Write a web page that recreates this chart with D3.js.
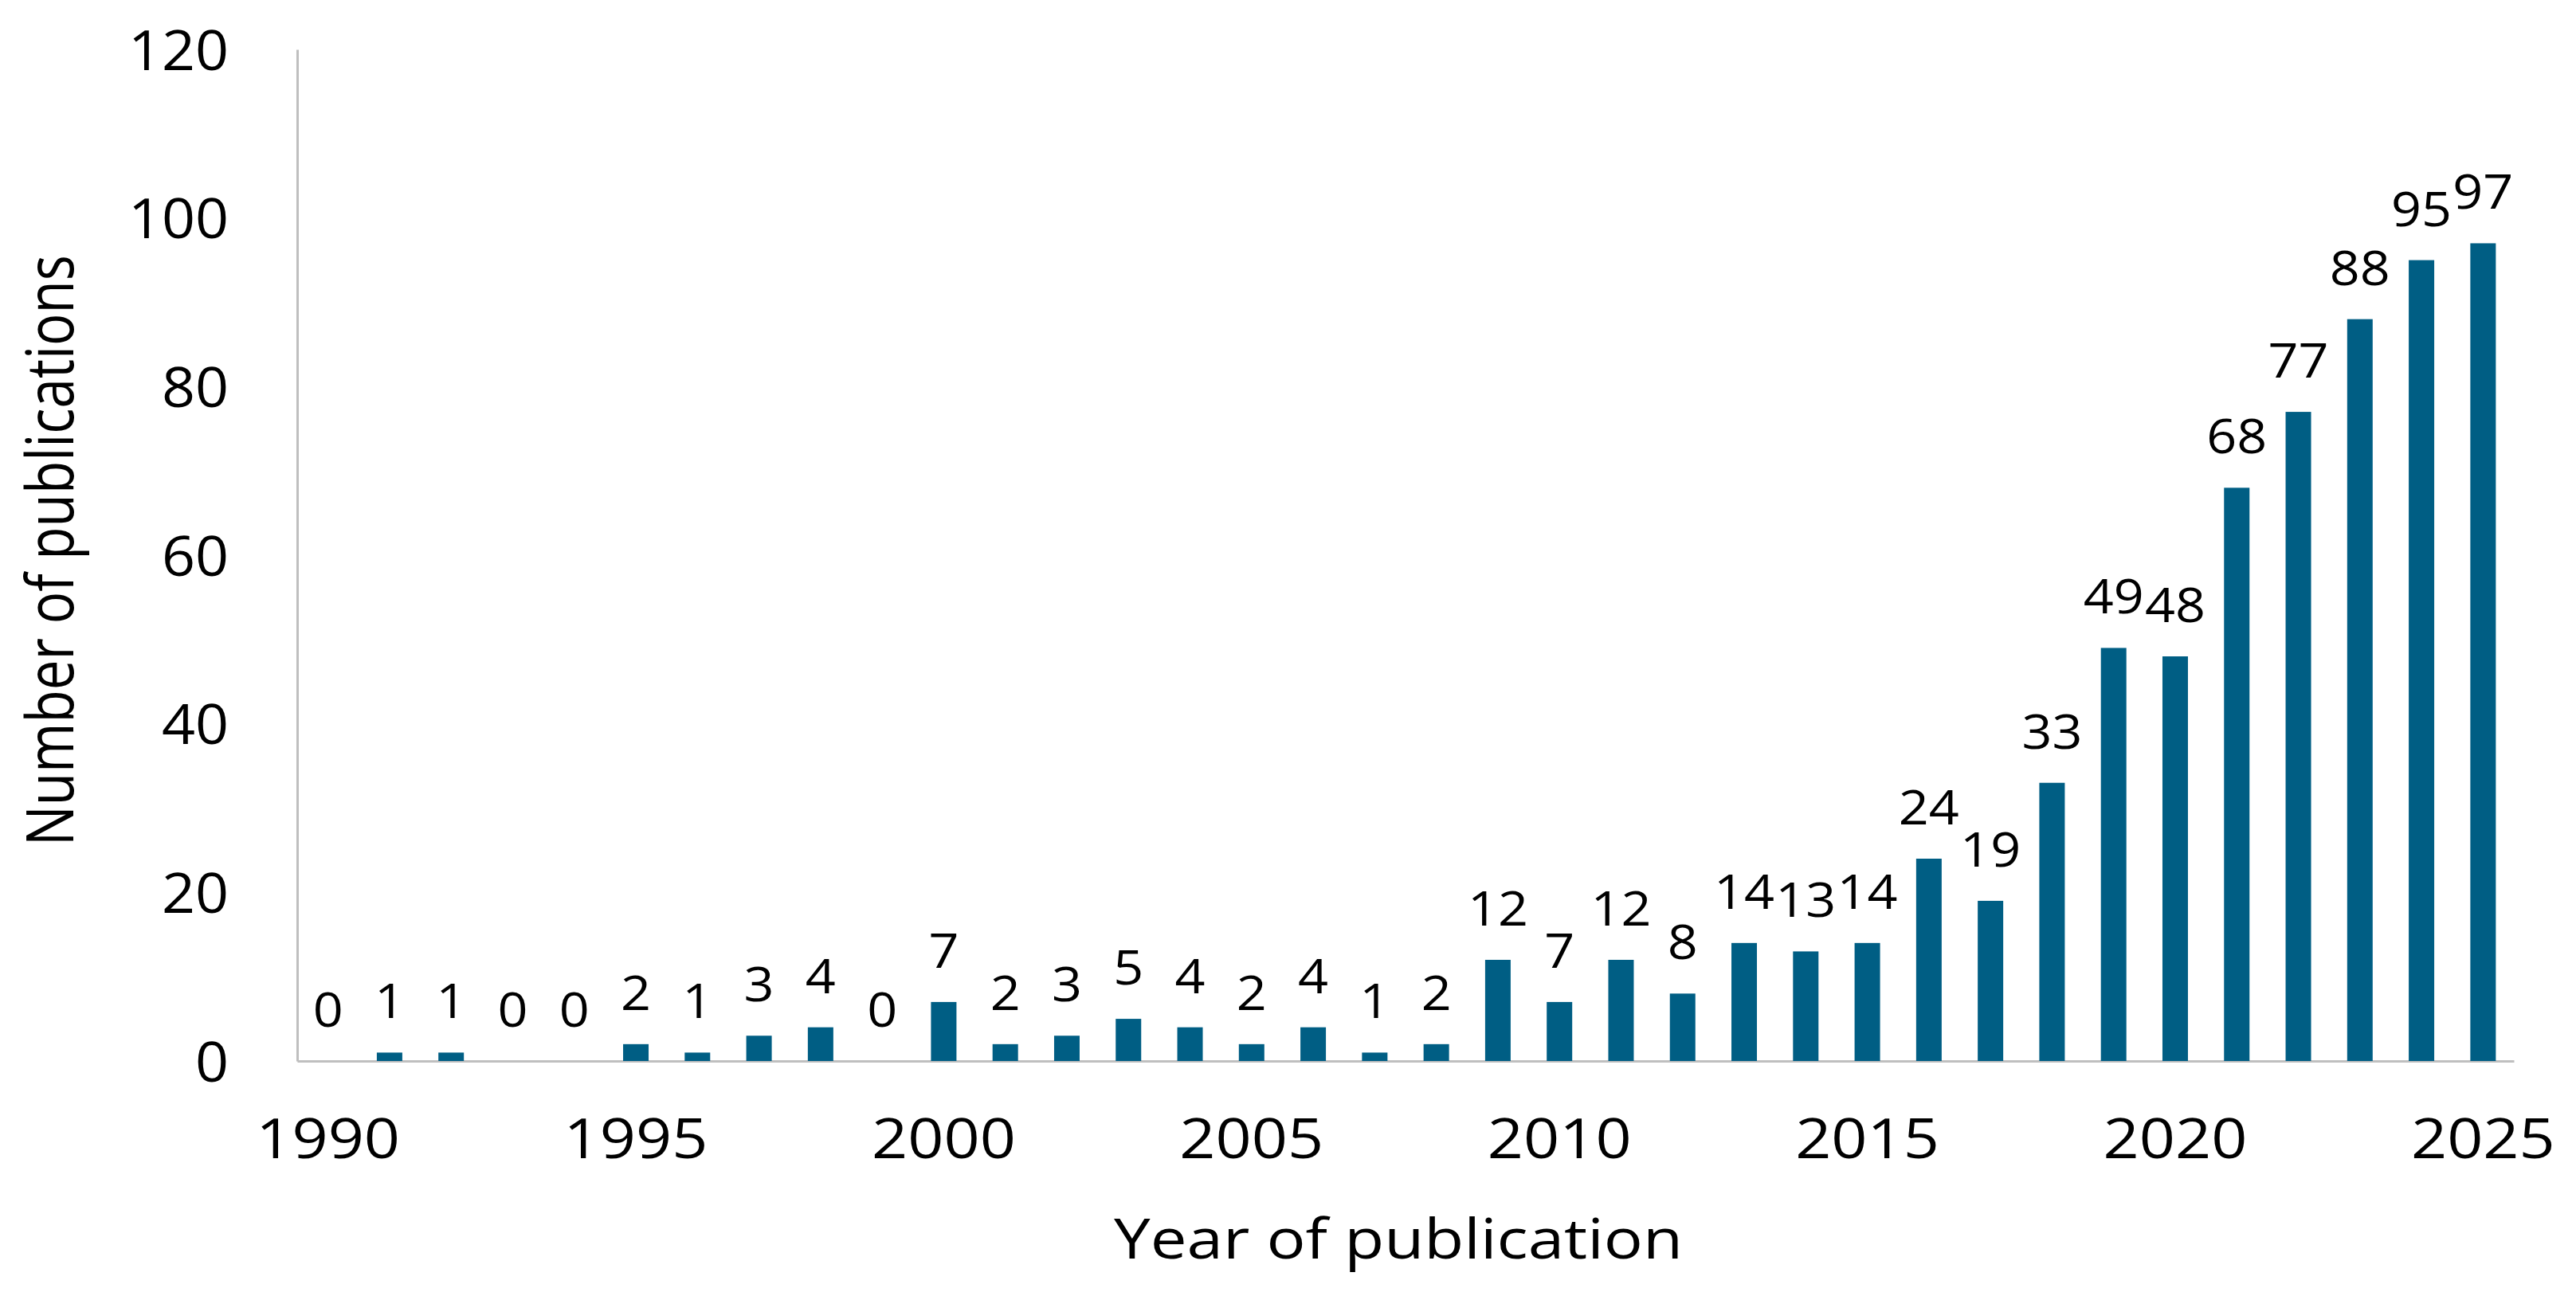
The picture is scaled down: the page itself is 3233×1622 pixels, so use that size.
<!DOCTYPE html>
<html>
<head>
<meta charset="utf-8">
<script src="https://cdn.jsdelivr.net/npm/d3@7"></script>
<style>
  html, body { margin: 0; padding: 0; background: #fff; }
  svg { display: block; }
  text { font-family: "Open Sans", "Noto Sans", sans-serif; fill: #000; }
</style>
</head>
<body>
<svg id="chart" width="3233" height="1622"></svg>
<script>
const years = [1990,1991,1992,1993,1994,1995,1996,1997,1998,1999,2000,2001,2002,2003,2004,2005,2006,2007,2008,2009,2010,2011,2012,2013,2014,2015,2016,2017,2018,2019,2020,2021,2022,2023,2024,2025];
const publications = [0,1,1,0,0,2,1,3,4,0,7,2,3,5,4,2,4,1,2,12,7,12,8,14,13,14,24,19,33,49,48,68,77,88,95,97];
const yTicks = [0,20,40,60,80,100,120];
const xTickYears = [1990,1995,2000,2005,2010,2015,2020,2025];
const xTitle = "Year of publication";
const yTitle = "Number of publications";

const svg = d3.select("#chart");
const mLeft = 373, mRight = 3155, mTop = 62, mBottom = 1332;

const x = d3.scaleBand().domain(years).range([mLeft, mRight]).paddingInner(0.586).paddingOuter(0.293);
const y = d3.scaleLinear().domain([0, 120]).range([mBottom, mTop]);

const yAxis = d3.axisLeft(y).tickValues(yTicks).tickSize(0).tickPadding(86);
const gy = svg.append("g").attr("transform", `translate(${mLeft},0)`).call(yAxis);
gy.select(".domain").attr("stroke", "#BFBFBF").attr("stroke-width", 3);
gy.selectAll("text")
  .style("font-size", "70px").style("font-family", "'Open Sans', sans-serif")
  .attr("fill", "#000").attr("dy", "0.36em")
  .attr("x", 0).attr("transform", "translate(-86,0) scale(1.05,1)");

const xAxis = d3.axisBottom(x).tickValues(xTickYears).tickSize(0).tickPadding(70);
const gx = svg.append("g").attr("transform", `translate(0,${mBottom})`).call(xAxis);
gx.select(".domain").attr("stroke", "#BFBFBF").attr("stroke-width", 3);
gx.selectAll("text")
  .style("font-size", "70px").style("font-family", "'Open Sans', sans-serif")
  .attr("fill", "#000").attr("dy", "0.36em").attr("y", 97)
  .attr("transform", "scale(1.13,1)");

const rows = years.map((yr, i) => ({yr, v: publications[i]}));

svg.append("g").selectAll("rect")
  .data(rows)
  .join("rect")
  .attr("x", d => x(d.yr))
  .attr("width", x.bandwidth())
  .attr("y", d => y(d.v))
  .attr("height", d => mBottom - y(d.v))
  .attr("fill", "#005E84");

svg.append("g").selectAll("text")
  .data(rows)
  .join("text")
  .attr("transform", d => `translate(${x(d.yr) + x.bandwidth() / 2},${y(d.v) - 43}) scale(1.09,1)`)
  .attr("text-anchor", "middle")
  .style("font-size", "61px")
  .text(d => d.v);

svg.append("text")
  .attr("x", 1755).attr("y", 1580)
  .attr("text-anchor", "middle")
  .attr("textLength", 714).attr("lengthAdjust", "spacingAndGlyphs")
  .style("font-size", "70px")
  .text(xTitle);

svg.append("text")
  .attr("transform", "translate(92,691) rotate(-90)")
  .attr("text-anchor", "middle")
  .attr("textLength", 742).attr("lengthAdjust", "spacingAndGlyphs")
  .style("font-size", "82px")
  .text(yTitle);
</script>
</body>
</html>
